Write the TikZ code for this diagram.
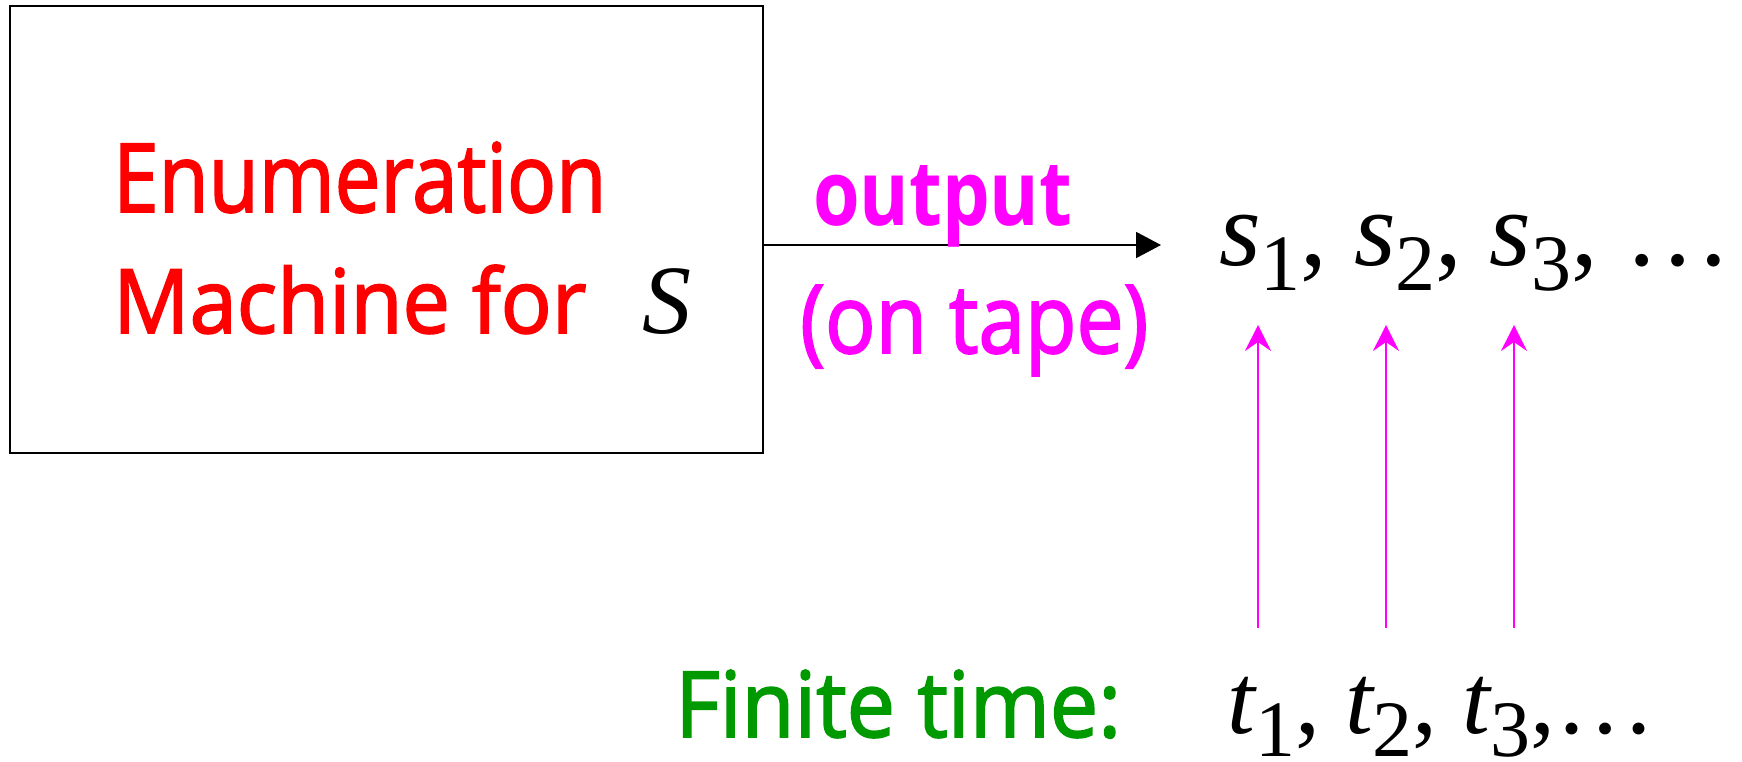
\documentclass[tikz,border=0pt]{standalone}
\usepackage{graphicx}
\usepackage{fontspec}
\setmainfont{Liberation Serif}
\newfontfamily\lbl{Open Sans}[FakeBold=2]
\newfontfamily\lblbold{Open Sans}
\usetikzlibrary{arrows.meta}
\definecolor{myred}{RGB}{255,0,0}
\definecolor{mymag}{RGB}{255,0,255}
\definecolor{mygreen}{RGB}{0,153,0}
\newcommand\sx[2]{{\itshape #1}\raisebox{-25pt}{\fontsize{80}{80}\selectfont #2}}
\newcommand\tx[2]{{\itshape #1}\raisebox{-23pt}{\fontsize{80}{80}\selectfont #2}}
\begin{document}
\begin{tikzpicture}[x=1pt,y=-1pt,
  lab/.style={inner sep=0pt,anchor=base west},
  magarrow/.style={draw=mymag,line width=2pt,-{Stealth[length=26pt,width=26pt,inset=9pt]}},
]
\useasboundingbox (0,0) rectangle (1742,761);
\node[draw,line width=1.6pt,minimum width=753pt,minimum height=447pt,inner sep=0pt,anchor=north west] (box) at (9,5) {};
\node[lab,text=myred] (enum) at (113,212) {\resizebox{493pt}{70pt}{\lbl Enumeration}};
\node[lab,text=myred] (mach) at (113,333) {\resizebox{473pt}{68pt}{\lbl Machine for}};
\node[lab] (S) at (642,333) {\fontsize{98}{98}\selectfont\itshape S};
\coordinate (oe) at (1161,245);
\draw[line width=2pt,-{Triangle[length=25pt,width=26pt]}] (box.east |- oe) -- (oe);
\node[lab,text=mymag] (out) at (813,225) {\resizebox{259pt}{60pt}{\lblbold\bfseries output}};
\node[lab,text=mymag] (tape) at (800,353) {\resizebox{348pt}{68pt}{\lbl (on tape)}};
\node[lab] (srow) at (1219,265) {\fontsize{107}{107}\selectfont \sx{s}{1}, \sx{s}{2}, \sx{s}{3}, …};
\node[lab,text=mygreen] (fin) at (675,737) {\resizebox{446pt}{67pt}{\lbl Finite time:}};
\node[lab] (trow) at (1227,733) {\fontsize{100}{100}\selectfont \tx{t}{1}, \tx{t}{2}, \tx{t}{3},…};
\foreach \i/\x in {1/1258,2/1386,3/1514}{
  \coordinate (b\i) at (\x,628);
  \coordinate (e\i) at (\x,325);
  \draw[magarrow] (b\i) -- (e\i);
}
\end{tikzpicture}
\end{document}
